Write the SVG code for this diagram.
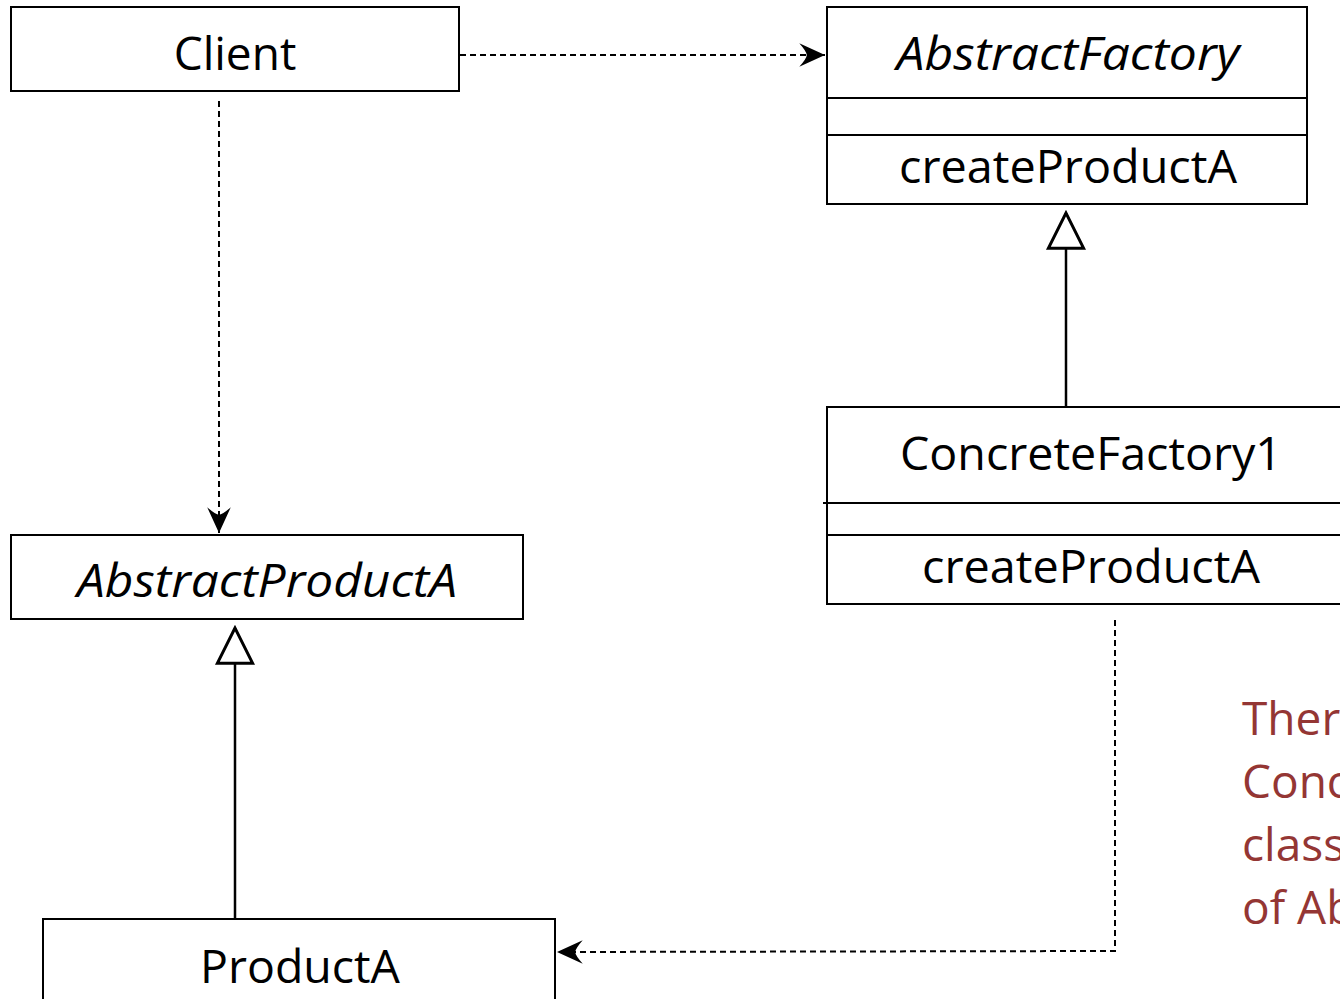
<svg xmlns="http://www.w3.org/2000/svg" width="1340" height="999" viewBox="0 0 1340 999">
  <style>
    .box { fill: #ffffff; stroke: #000000; stroke-width: 2; }
    .sep { stroke: #000000; stroke-width: 2; fill: none; }
    .lbl { font-family: "Open Sans", "Liberation Sans", sans-serif; font-size: 46px; fill: #000000; text-anchor: middle; }
    .it { font-style: italic; }
    .dep { stroke: #000000; stroke-width: 2; fill: none; stroke-dasharray: 6 4; }
    .gen { stroke: #000000; stroke-width: 2.5; fill: none; }
    .note { font-family: "Open Sans", "Liberation Sans", sans-serif; font-size: 46px; fill: #943634; }
  </style>
  <defs>
    <marker id="arrow" markerUnits="userSpaceOnUse" markerWidth="30" markerHeight="30" refX="0" refY="0" viewBox="-26 -13 28 26" orient="auto" overflow="visible">
      <path d="M0,0 L-24,-11 Q-17,-3 -17,0 Q-17,3 -24,11 Z" fill="#000000"/>
    </marker>
    <marker id="hollow" markerUnits="userSpaceOnUse" markerWidth="40" markerHeight="40" refX="0" refY="0" viewBox="-32 -17 34 34" orient="auto" overflow="visible">
      <path d="M0,0 L-30,-15 L-30,15 Z" fill="#ffffff" stroke="#000000" stroke-width="2.5"/>
    </marker>
  </defs>

  <!-- connectors -->
  <g id="connectors">
    <path class="dep" d="M460,55 L825,55" marker-end="url(#arrow)"/>
    <path class="dep" d="M219,101 L219,533" marker-end="url(#arrow)"/>
    <path class="gen" d="M1066,406 L1066,213" marker-end="url(#hollow)"/>
    <path class="gen" d="M235,918 L235,628" marker-end="url(#hollow)"/>
    <path class="dep" d="M1115,620 L1115,951 L557,952" marker-end="url(#arrow)"/>
  </g>

  <!-- Client -->
  <g id="client">
    <rect class="box" x="11" y="7" width="448" height="84"/>
    <text class="lbl" x="235" y="70">Client</text>
  </g>

  <!-- AbstractFactory -->
  <g id="abstract-factory">
    <rect class="box" x="827" y="7" width="480" height="197"/>
    <line class="sep" x1="827" y1="98" x2="1307" y2="98"/>
    <line class="sep" x1="827" y1="135" x2="1307" y2="135"/>
    <text class="lbl it" x="1068" y="70" textLength="343" lengthAdjust="spacingAndGlyphs">AbstractFactory</text>
    <text class="lbl" x="1068" y="183" textLength="338" lengthAdjust="spacingAndGlyphs">createProductA</text>
  </g>

  <!-- ConcreteFactory1 -->
  <g id="concrete-factory1">
    <rect class="box" x="827" y="407" width="540" height="197"/>
    <line class="sep" x1="823" y1="503" x2="1367" y2="503"/>
    <line class="sep" x1="827" y1="535" x2="1367" y2="535"/>
    <text class="lbl" x="1091" y="470" textLength="382" lengthAdjust="spacingAndGlyphs">ConcreteFactory1</text>
    <text class="lbl" x="1091" y="583" textLength="338" lengthAdjust="spacingAndGlyphs">createProductA</text>
  </g>

  <!-- AbstractProductA -->
  <g id="abstract-product-a">
    <rect class="box" x="11" y="535" width="512" height="84"/>
    <text class="lbl it" x="267" y="597" textLength="380" lengthAdjust="spacingAndGlyphs">AbstractProductA</text>
  </g>

  <!-- ProductA -->
  <g id="product-a">
    <rect class="box" x="43" y="919" width="512" height="100"/>
    <text class="lbl" x="300" y="983" textLength="200" lengthAdjust="spacingAndGlyphs">ProductA</text>
  </g>

  <!-- note -->
  <g id="note">
    <text class="note" x="1242" y="735">There</text>
    <text class="note" x="1242" y="798">Concrete</text>
    <text class="note" x="1242" y="861">classes</text>
    <text class="note" x="1242" y="924">of Abstract</text>
  </g>
</svg>
